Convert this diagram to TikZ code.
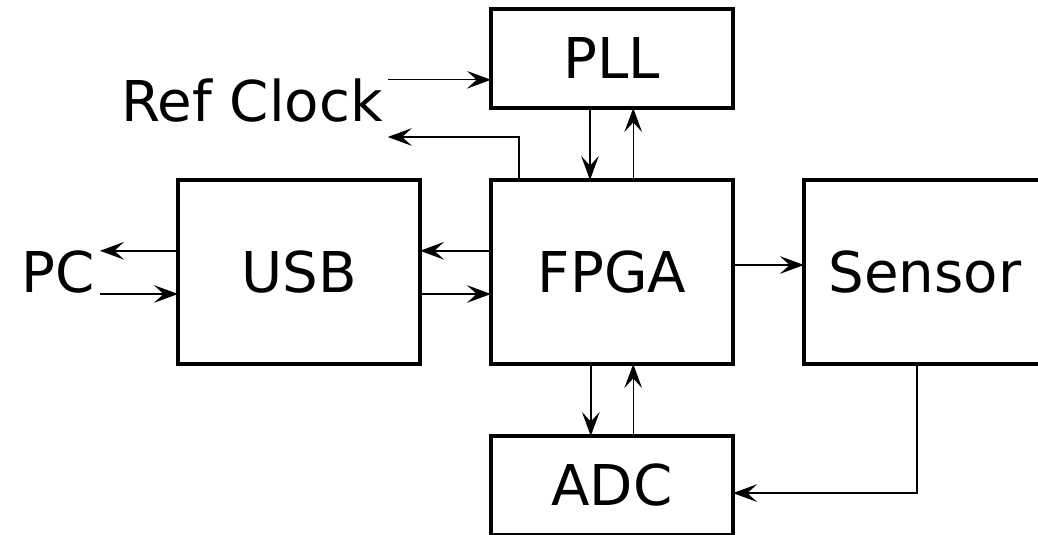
\documentclass[tikz,border=0pt]{standalone}
\usepackage{fontspec}
\setmainfont{DejaVu Sans}
\usetikzlibrary{arrows.meta,positioning}

\begin{document}
\begin{tikzpicture}[
    node distance=1.8cm,
    box/.style={rectangle, draw, line width=2.2pt, outer sep=0pt, minimum width=6.05cm,
                minimum height=4.6cm, align=center, font=\fontsize{40}{48}\selectfont},
    smallbox/.style={box, minimum height=2.475cm},
    lbl/.style={font=\fontsize{40}{48}\selectfont},
    arrow/.style={-{Stealth[length=6mm,width=4.4mm,inset=2.4mm]}, line width=1pt}
]
\useasboundingbox (0,0) rectangle (25.95,-13.375);
\node[box] (fpga) at (15.3,-6.8) {FPGA};
\node[box, left=1.775cm of fpga] (usb) {USB};
\node[box, right=1.775cm of fpga] (sensor) {Sensor};
\node[smallbox, above=of fpga] (pll) {PLL};
\node[smallbox, below=of fpga] (adc) {ADC};
\node[lbl] (refclk) at (6.3,-2.525) {Ref Clock};
\node[lbl, left=1.95cm of usb] (pc) {PC};

% clock
\coordinate (clkin) at ([yshift=0.53cm]refclk.east);
\draw[arrow] (clkin) -- (clkin -| pll.west);
\draw[arrow] ([xshift=0.7cm]fpga.north west) |- ([yshift=-0.9cm]refclk.east);
\draw[arrow] ([xshift=-0.55cm]pll.south) -- ([xshift=-0.55cm]fpga.north);
\draw[arrow] ([xshift=0.53cm]fpga.north) -- ([xshift=0.53cm]pll.south);

% USB link
\draw[arrow] ([yshift=0.53cm]fpga.west) -- ([yshift=0.53cm]usb.east);
\draw[arrow] ([yshift=-0.55cm]usb.east) -- ([yshift=-0.55cm]fpga.west);
\draw[arrow] ([yshift=0.53cm]usb.west) -- ([yshift=0.53cm]pc.east);
\draw[arrow] ([yshift=-0.55cm]pc.east) -- ([yshift=-0.55cm]usb.west);

% sensor and ADC
\draw[arrow, line width=1.5pt] ([yshift=0.175cm]fpga.east) -- ([yshift=0.175cm]sensor.west);
\draw[arrow] ([xshift=-0.53cm]fpga.south) -- ([xshift=-0.53cm]adc.north);
\draw[arrow] ([xshift=0.53cm]adc.north) -- ([xshift=0.53cm]fpga.south);
\draw[arrow] ([xshift=-0.2cm]sensor.south) |- ([yshift=-0.19cm]adc.east);
\end{tikzpicture}
\end{document}
